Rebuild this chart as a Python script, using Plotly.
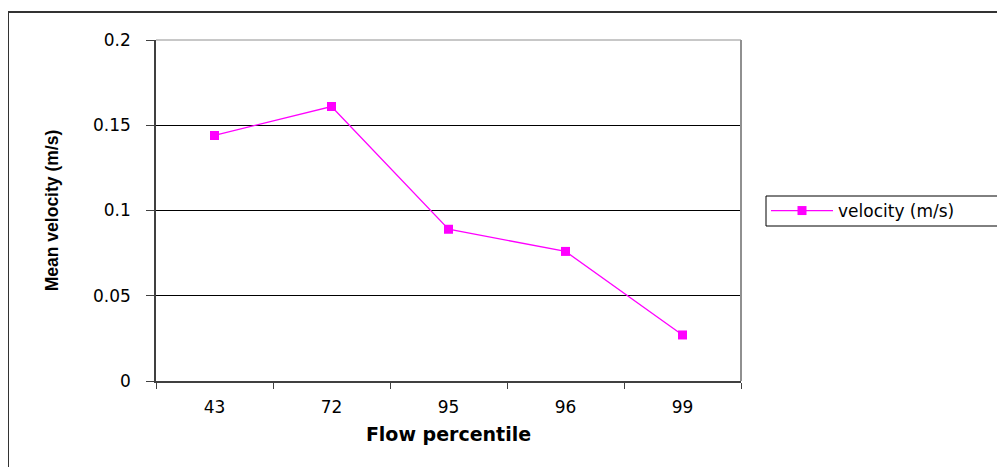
import plotly.graph_objects as go

categories = ["43", "72", "95", "96", "99"]
velocity = [0.144, 0.161, 0.089, 0.076, 0.027]
y_ticks = [0, 0.05, 0.1, 0.15, 0.2]
y_tick_labels = ["0", "0.05", "0.1", "0.15", "0.2"]

# page coordinates (the html body adds an 8px margin)
OFF = 8
W, H = 1005 - OFF, 467 - OFF
L, R, T, B = 156 - OFF, 264, 40 - OFF, 86
pw, ph = W - L - R, H - T - B


def px(xp):
    return (xp - 156) / pw


def py(yp):
    return 1 - (yp - 40) / ph


WIDE = "DejaVu Sans, Verdana, sans-serif"
ARIAL = "Liberation Sans, Arial, sans-serif"

fig = go.Figure()
fig.add_trace(go.Scatter(
    x=categories, y=velocity, mode="lines+markers", name="velocity (m/s)",
    line=dict(color="#FF00FF", width=1.3),
    marker=dict(symbol="square", size=9, color="#FF00FF"),
))

fig.update_layout(
    width=W, height=H,
    margin=dict(l=L, r=R, t=T, b=B),
    paper_bgcolor="white", plot_bgcolor="white",
    font=dict(family=WIDE, size=17, color="black"),
    showlegend=True,
    legend=dict(
        x=px(766), y=py(211), xanchor="left", yanchor="middle",
        borderwidth=0, bgcolor="rgba(0,0,0,0)",
        font=dict(size=17, family=WIDE), itemwidth=62,
        tracegroupgap=0,
    ),
    xaxis=dict(
        type="category", range=[-0.5, 4.5],
        showline=True, linecolor="#404040", linewidth=2,
        ticks="outside", tickson="boundaries", ticklen=6, tickcolor="#404040",
        ticklabelstandoff=10,
        showgrid=False, mirror=False,
        tickfont=dict(size=17, family=WIDE),
        title=dict(text="<b>Flow percentile</b>",
                   font=dict(size=19, family=WIDE), standoff=11),
    ),
    yaxis=dict(
        range=[0, 0.2], tickvals=y_ticks, ticktext=y_tick_labels,
        showline=True, linecolor="#404040", linewidth=1.5,
        ticks="outside", ticklen=8, tickcolor="#404040",
        ticklabelstandoff=12,
        showgrid=True, gridcolor="black", gridwidth=1,
        zeroline=False,
        tickfont=dict(size=17, family=WIDE),
        title=dict(text="<b>Mean velocity (m/s)</b>",
                   font=dict(size=17.5, family=ARIAL), standoff=30),
    ),
)

# legend frame, running off the right edge as in the reference
fig.add_shape(type="rect", xref="paper", yref="paper",
              x0=px(766), x1=px(1012), y0=py(226), y1=py(196),
              line=dict(color="black", width=1), fillcolor="rgba(0,0,0,0)", layer="below")

# right edge of plot area (gray)
fig.add_shape(type="line", xref="paper", yref="paper", x0=1, x1=1, y0=0, y1=1,
              line=dict(color="#909090", width=2))
# top edge of plot area
fig.add_shape(type="line", xref="paper", yref="paper", x0=0, x1=1, y0=1, y1=1,
              line=dict(color="#909090", width=1))

# outer chart border (top and left)
bx = px(8)
by = py(12)
fig.add_shape(type="line", xref="paper", yref="paper", x0=bx, x1=px(1015), y0=by, y1=by,
              line=dict(color="#333333", width=2))
fig.add_shape(type="line", xref="paper", yref="paper", x0=bx, x1=bx, y0=by, y1=py(480),
              line=dict(color="#333333", width=2))

fig.write_html("out.html")
